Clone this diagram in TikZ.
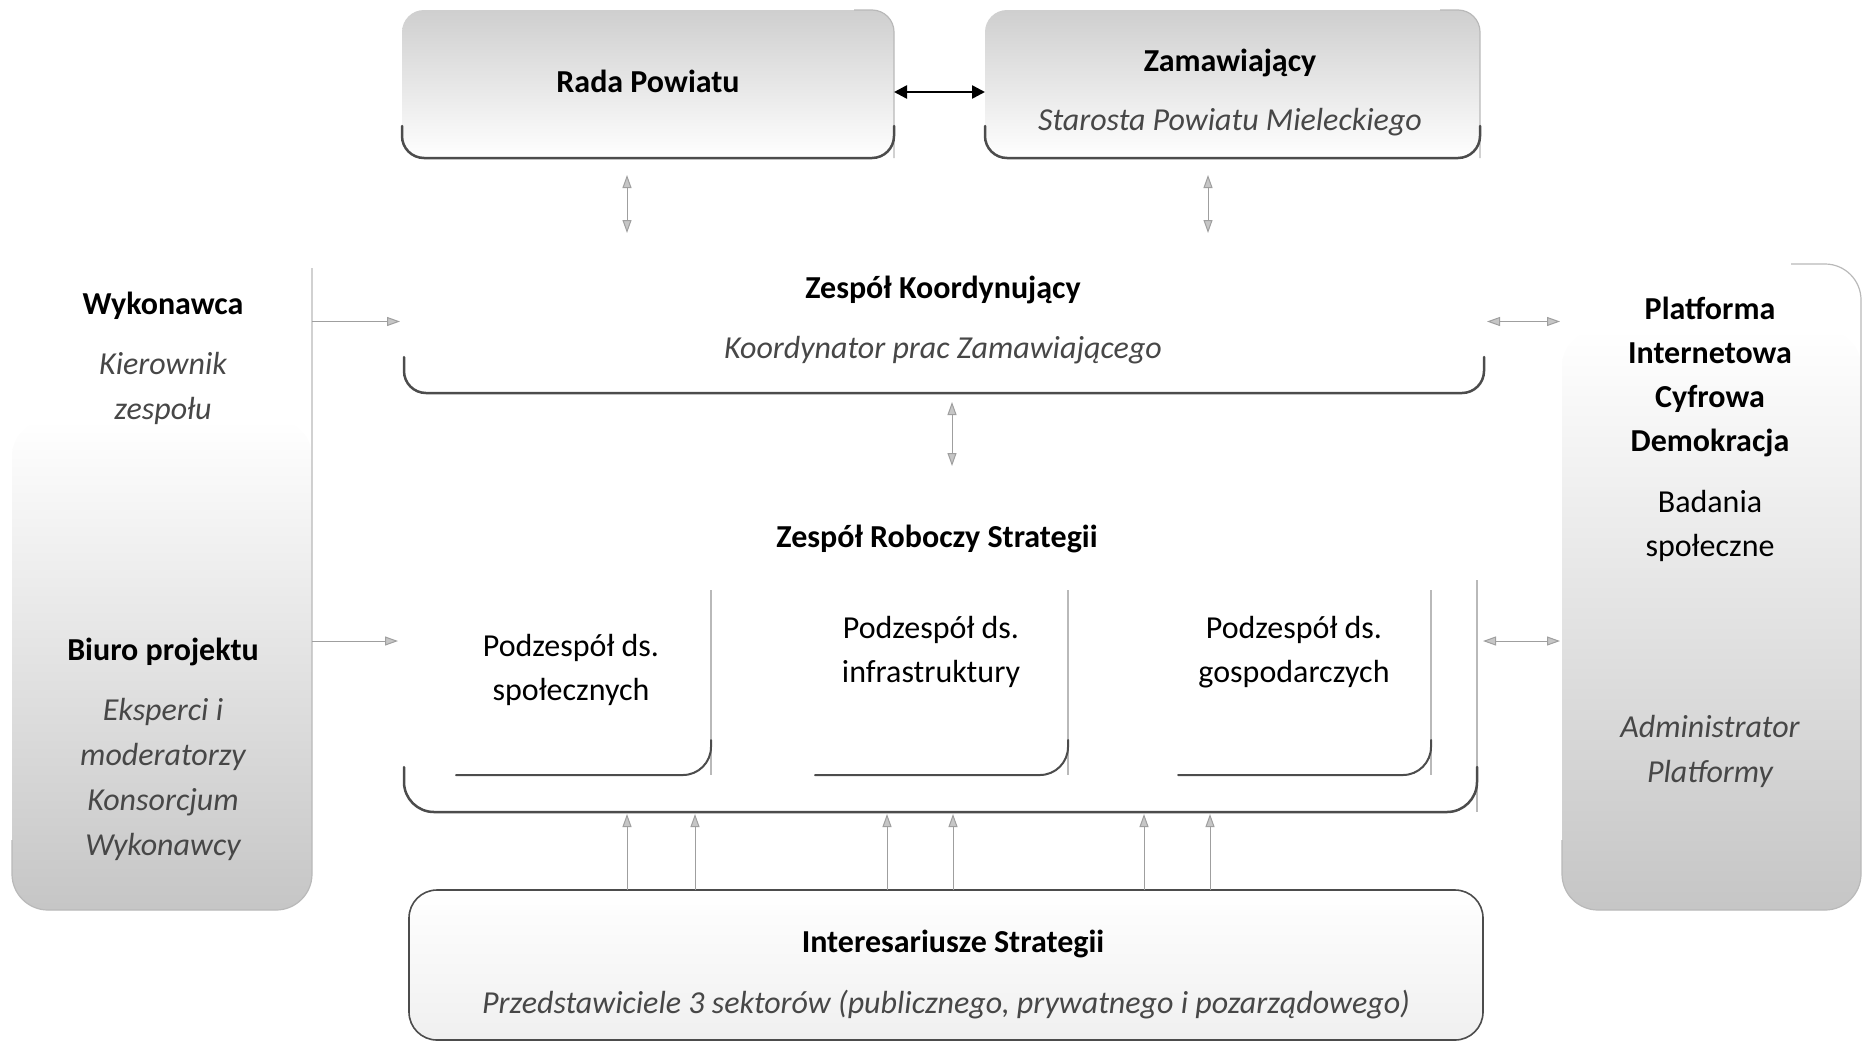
\documentclass[tikz,border=0pt]{standalone}
\usepackage{fontspec}
\setmainfont{Carlito}
\usetikzlibrary{arrows.meta}
\begin{document}
\begin{tikzpicture}[x=1pt,y=-1pt,
  box/.style={inner sep=0pt, outer sep=0pt},
  ttl/.style={font=\fontsize{32}{44}\selectfont\bfseries, align=center, text=black, inner sep=0pt},
  sbt/.style={font=\fontsize{32}{45}\selectfont\itshape, align=center, text=black!72, inner sep=0pt},
  pln/.style={font=\fontsize{32}{44}\selectfont, align=center, text=black, inner sep=0pt},
  btm/.style={draw=black!70, line width=2.5pt, line cap=round},
  edg/.style={draw=gray!55, line width=1.2pt},
  con/.style={draw=gray!75, line width=1pt, -{Triangle[length=13pt,width=9pt,fill=gray!45]}},
  dcon/.style={draw=gray!75, line width=1pt, {Triangle[length=13pt,width=9pt,fill=gray!45]}-{Triangle[length=13pt,width=9pt,fill=gray!45]}},
  bcon/.style={draw=black, line width=2.5pt, {Triangle[length=13pt,width=13pt]}-{Triangle[length=13pt,width=13pt]}}
]
\useasboundingbox (0,0) rectangle (1865,1042);

% ---- boxes
\node[box, rounded corners=22pt, minimum width=492pt, minimum height=148pt, top color=gray!38, bottom color=white] (rada) at (648,84) {};
\node[box, rounded corners=22pt, minimum width=495pt, minimum height=148pt, top color=gray!38, bottom color=white] (zam) at (1232.5,84) {};
\node[box, rounded corners=22pt, minimum width=1080pt, minimum height=143pt] (koord) at (944,321.5) {};
\node[box, rounded corners=30pt, minimum width=1073pt, minimum height=342pt] (rob) at (940.5,641) {};
\node[box, rounded corners=28pt, minimum width=261pt, minimum height=185pt] (sub1) at (580.5,682.5) {};
\node[box, rounded corners=28pt, minimum width=259pt, minimum height=185pt] (sub2) at (938.5,682.5) {};
\node[box, rounded corners=28pt, minimum width=259pt, minimum height=185pt] (sub3) at (1301.5,682.5) {};
\node[box, rounded corners=28pt, minimum width=1074pt, minimum height=150pt, top color=white, bottom color=gray!12] (inter) at (946,965) {};
\node[box, minimum width=300pt, minimum height=642pt] (wyk) at (162,589) {};
\node[box, minimum width=299pt, minimum height=646pt] (plat) at (1711.5,587) {};

% ---- shaded lower parts of the side boxes
\shade[top color=white, middle color=gray!16, bottom color=gray!45, rounded corners=36pt] (wyk.west |- 0,420) rectangle (wyk.south east);
\shade[top color=white, middle color=gray!14, bottom color=gray!45, rounded corners=36pt] (plat.west |- 0,330) rectangle (plat.south east);

% ---- edges
\draw[edg, rounded corners=22pt] ([xshift=-40pt]rada.north east) -- (rada.north east) -- (rada.south east);
\draw[btm, rounded corners=22pt] ([yshift=32pt]rada.south west) -- (rada.south west) -- (rada.south east) -- ([yshift=32pt]rada.south east);
\draw[edg, rounded corners=22pt] ([xshift=-40pt]zam.north east) -- (zam.north east) -- (zam.south east);
\draw[btm, rounded corners=22pt] ([yshift=32pt]zam.south west) -- (zam.south west) -- (zam.south east) -- ([yshift=32pt]zam.south east);
\draw[btm, rounded corners=22pt] ([yshift=36pt]koord.south west) -- (koord.south west) -- (koord.south east) -- ([yshift=36pt]koord.south east);
\draw[edg, rounded corners=30pt] ([yshift=-110pt]rob.north east) -- (rob.south east);
\draw[btm, rounded corners=30pt] ([yshift=45pt]rob.south west) -- (rob.south west) -- (rob.south east) -- ([yshift=45pt]rob.south east);
\foreach \s in {sub1,sub2,sub3}{
  \draw[edg, rounded corners=28pt] (\s.north east) -- (\s.south east);
  \draw[btm, line width=2pt, rounded corners=28pt] (\s.north east) ++(0,-150pt) |- ([xshift=6pt]\s.south west);
}
\draw[draw=black!70, line width=1.6pt, rounded corners=28pt] (inter.south west) rectangle (inter.north east);
\draw[edg, rounded corners=36pt] (wyk.north east) -- (wyk.south east) -- (wyk.south west) -- ([yshift=70pt]wyk.south west);
\draw[edg, rounded corners=36pt] ([xshift=-70pt]plat.north east) -- (plat.north east) -- (plat.south east) -- (plat.south west) -- ([yshift=70pt]plat.south west);

% ---- texts
\node[ttl] (radaT) at (648,81) {Rada Powiatu};
\node[ttl] (zamT) at (1230,63) {Zamawiający};
\node[sbt] (zamS) at (1230,122) {Starosta Powiatu Mieleckiego};
\node[ttl] (koordT) at (943,290) {Zespół Koordynujący};
\node[sbt] (koordS) at (943,350) {Koordynator prac Zamawiającego};
\node[ttl] (robT) at (937,539) {Zespół Roboczy Strategii};
\node[pln] (sub1T) at (571,670) {Podzespół ds.\\społecznych};
\node[pln] (sub2T) at (931,652) {Podzespół ds.\\infrastruktury};
\node[pln] (sub3T) at (1294,652) {Podzespół ds.\\gospodarczych};
\node[ttl] (interT) at (953,944) {Interesariusze Strategii};
\node[sbt] (interS) at (946,1005) {Przedstawiciele 3 sektorów (publicznego, prywatnego i pozarządowego)};
\node[ttl] (wykT) at (163,306) {Wykonawca};
\node[sbt] (wykS) at (163,388) {Kierownik\\zespołu};
\node[ttl] (biuroT) at (163,652) {Biuro projektu};
\node[sbt] (biuroS) at (163,779) {Eksperci i\\moderatorzy\\Konsorcjum\\Wykonawcy};
\node[ttl] (platT) at (1710,377) {Platforma\\Internetowa\\Cyfrowa\\Demokracja};
\node[pln] (platS) at (1710,526) {Badania\\społeczne};
\node[sbt] (platA) at (1710,751) {Administrator\\Platformy};

% ---- connectors
\coordinate (c1) at (627,233);
\coordinate (c2) at (1208,233);
\coordinate (c3) at (952,466);
\draw[bcon] ([yshift=-8pt]rada.east) -- ([yshift=-8pt]zam.west);
\draw[dcon, shorten <=17pt] (rada.south -| c1) -- (c1);
\draw[dcon, shorten <=17pt] (zam.south -| c2) -- (c2);
\draw[dcon, shorten <=9pt] (koord.south -| c3) -- (c3);
\draw[con, shorten >=4pt] (wyk.east |- koord.west) -- (koord.west);
\draw[con, shorten >=6pt] (wyk.east |- rob.west) -- (rob.west);
\draw[dcon, shorten <=3pt, shorten >=2pt] (koord.east) -- (koord.east -| plat.west);
\draw[dcon, shorten <=6pt, shorten >=2pt] (rob.east) -- (rob.east -| plat.west);
\foreach \x [count=\i] in {627,695,887,953,1144,1210}{
  \coordinate (u\i) at (\x,0);
  \draw[con, shorten >=2pt] (inter.north -| u\i) -- (rob.south -| u\i);
}
\end{tikzpicture}
\end{document}
